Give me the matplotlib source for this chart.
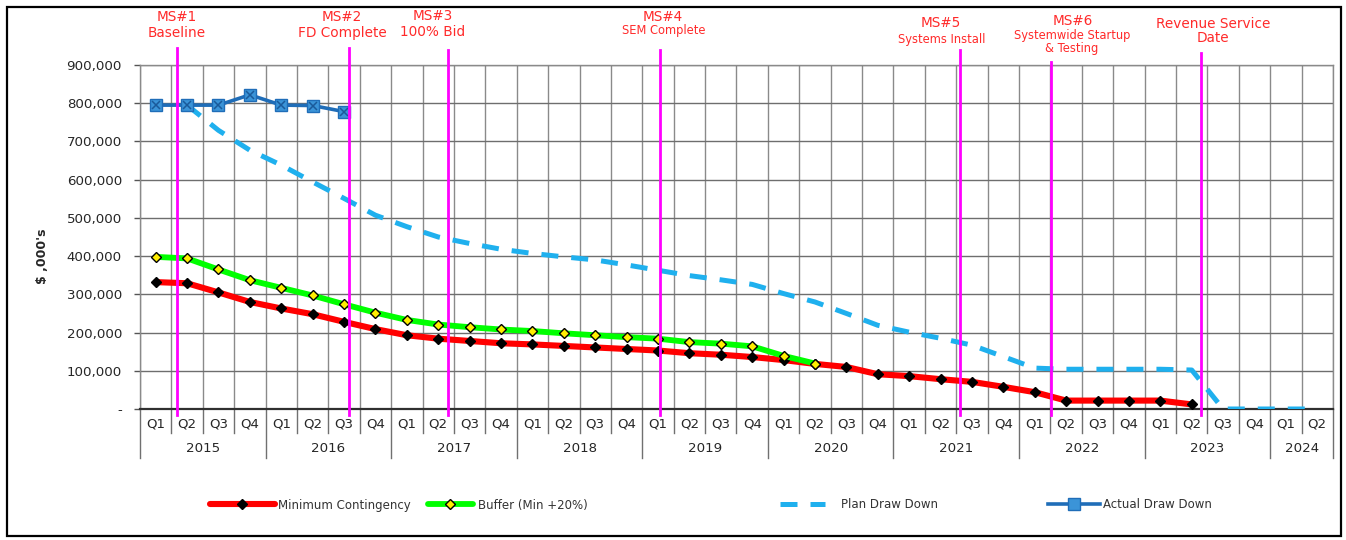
import numpy as np
import matplotlib
matplotlib.use('Agg')
import matplotlib.pyplot as plt
from matplotlib.transforms import blended_transform_factory
from matplotlib.patches import Rectangle
from matplotlib.ticker import FuncFormatter

# ---------------- data ----------------
years = ['2015', '2016', '2017', '2018', '2019', '2020', '2021', '2022', '2023', '2024']
quarters = ['Q1', 'Q2', 'Q3', 'Q4'] * 9 + ['Q1', 'Q2']

min_contingency = [332000, 329000, 305000, 280000, 263000, 248000, 228000, 209000,
                   193000, 184000, 178000, 172000, 169000, 165000, 161000, 157000,
                   153000, 146000, 142000, 136000, 128000, 118000, 110000, 91000,
                   86000, 78000, 71000, 58000, 44000, 22000, 22000, 22000,
                   22000, 12000]

buffer_min20 = [398000, 394000, 365000, 337000, 317000, 297000, 274000, 252000,
                233000, 221000, 214000, 208000, 204000, 198000, 193000, 188000,
                184000, 175000, 171000, 164000, 139000, 119000]

plan_draw_down = [np.nan, 795000, 729000, 677000, 638000, 594000, 551000, 507000,
                  477000, 450000, 433000, 418000, 407000, 398000, 390000, 377000,
                  363000, 349000, 338000, 326000, 302000, 280000, 250000, 219000,
                  201000, 185000, 167000, 137000, 107000, 104000, 104000, 104000,
                  104000, 102000, 0, 0, 0, 0]

actual_draw_down = [795000, 795000, 795000, 822000, 795000, 794000, 778000]

# milestone positions in quarter units (0 = 2015 Q1)
milestone_pos = [0.68, 6.16, 9.31, 16.06, 25.61, 28.51, 33.29]

# ---------------- figure ----------------
plt.rcParams['font.family'] = ['DejaVu Sans']
W, H = 1346, 540
fig = plt.figure(figsize=(W / 100, H / 100), dpi=100)
fig.patch.set_facecolor('white')

L, R, T, B = 140, 1333, 65, 409
ax = fig.add_axes([L / W, 1 - B / H, (R - L) / W, (B - T) / H])
n = len(quarters)
ax.set_xlim(-0.5, n - 0.5)
ax.set_ylim(0, 900000)
ax.set_axisbelow(True)

# grid
ax.set_xticks(np.arange(-0.5, n, 1.0), minor=True)
ax.grid(which='minor', axis='x', color='#8a8a8a', lw=1.0)
ax.set_yticks(np.arange(0, 900001, 100000))
ax.grid(which='major', axis='y', color='#6e6e6e', lw=1.0)
ax.tick_params(axis='x', which='minor', length=0)

for s in ['top', 'right', 'left']:
    ax.spines[s].set_color('#8a8a8a')
    ax.spines[s].set_linewidth(1.0)
ax.spines['bottom'].set_color('#303030')
ax.spines['bottom'].set_linewidth(1.6)

ax.yaxis.set_major_formatter(FuncFormatter(lambda v, p: '-' if v == 0 else f'{v:,.0f}'))
ax.tick_params(axis='y', direction='out', length=4, width=1, color='#555555',
               pad=9, labelsize=9.6, labelcolor='#262626')

ax.set_xticks(np.arange(n))
ax.set_xticklabels(quarters)
ax.tick_params(axis='x', which='major', length=0, pad=6, labelsize=9.6,
               labelcolor='#262626')

trans = blended_transform_factory(ax.transData, ax.transAxes)
# category separators below the axis
for k in range(n + 1):
    x = k - 0.5
    year_edge = (k % 4 == 0) or k == n
    ybot = -0.142 if year_edge else -0.07
    ax.plot([x, x], [0, ybot], transform=trans, clip_on=False,
            color='#707070', lw=1.0, zorder=1)
# year labels
for i, yr in enumerate(years):
    start = i * 4
    end = min(start + 4, n)
    ax.text((start + end - 1) / 2, -0.116, yr, transform=trans, ha='center',
            va='center', fontsize=9.6, color='#262626')

xs = np.arange(n)
# data lines
h_min, = ax.plot(xs[:len(min_contingency)], min_contingency, color='#ff0000', lw=4.4,
                 marker='D', markersize=4.6, markerfacecolor='black',
                 markeredgecolor='black', zorder=4, label='Minimum Contingency',
                 solid_joinstyle='round', solid_capstyle='round')
h_buf, = ax.plot(xs[:len(buffer_min20)], buffer_min20, color='#00ff00', lw=4.2,
                 marker='D', markersize=4.8, markerfacecolor='#ffee00',
                 markeredgecolor='black', markeredgewidth=1.0, zorder=4,
                 label='Buffer (Min +20%)', solid_joinstyle='round',
                 solid_capstyle='round')
h_plan, = ax.plot(xs, plan_draw_down, color='#1fb0ee', lw=3.6, ls=(0, (3.4, 2.6)),
                  zorder=3, label='Plan Draw Down')
h_act, = ax.plot(xs[:len(actual_draw_down)], actual_draw_down, color='#1f6db8', lw=2.6,
                 marker='s', markersize=8.5, markerfacecolor='#3b94d8',
                 markeredgecolor='#1f6db8', markeredgewidth=1.0, zorder=5,
                 label='Actual Draw Down')
ax.plot(xs[:len(actual_draw_down)], actual_draw_down, ls='none', marker='x',
        markersize=5.5, markeredgecolor='#1a5a9a', markeredgewidth=1.1, zorder=6)

# milestone lines and labels
tops = [1.049, 1.049, 1.043, 1.043, 1.043, 1.009, 1.035]
for pos, top in zip(milestone_pos, tops):
    ax.plot([pos, pos], [-0.0175, top], transform=trans, clip_on=False,
            color='#ff00ff', lw=2.0, zorder=7)

red = '#ff2a2a'
def ftext(x, y, s, size):
    fig.text(x / W, 1 - y / H, s, ha='center', va='center', fontsize=size,
             color=red, linespacing=1.05)

ftext(177, 17, 'MS#1', 9.8); ftext(177, 33, 'Baseline', 9.8)
ftext(342, 17, 'MS#2', 9.8); ftext(342, 33, 'FD Complete', 9.8)
ftext(433, 16, 'MS#3', 9.8); ftext(433, 32, '100% Bid', 9.8)
ftext(663, 17, 'MS#4', 9.8); ftext(664, 31, 'SEM Complete', 8.3)
ftext(941, 23, 'MS#5', 9.8); ftext(942, 39, 'Systems Install', 8.3)
ftext(1073, 21, 'MS#6', 9.8); ftext(1072, 42, 'Systemwide Startup\n& Testing', 8.3)
ftext(1213, 24, 'Revenue Service', 9.8); ftext(1213, 38, 'Date', 9.8)

# y label
fig.text(42 / W, 1 - 256 / H, "$ ,000's", rotation=90, ha='center', va='center',
         fontsize=9, fontweight='bold', color='#262626')

# legends
ly = 1 - 505 / H
specs = [(h_min, 'Minimum Contingency', 210, 5.5, 0.3),
         (h_buf, 'Buffer (Min +20%)', 428, 3.8, 0.4),
         (h_plan, 'Plan Draw Down', 780, 3.8, 1.4),
         (h_act, 'Actual Draw Down', 1048, 4.4, 0.3)]
for h, lab, x0, hl, hp in specs:
    fig.legend([h], [lab], loc='center left', bbox_to_anchor=(x0 / W, ly),
               frameon=False, fontsize=8.5, handlelength=hl, handletextpad=hp,
               borderpad=0, borderaxespad=0, labelcolor='#333333', numpoints=1)

# outer border
fig.patches.append(Rectangle((7 / W, 1 - 536 / H), (1341 - 7) / W, (536 - 7) / H,
                             transform=fig.transFigure, fill=False, ec='black',
                             lw=1.6))

fig.savefig('out.png', dpi=100)
